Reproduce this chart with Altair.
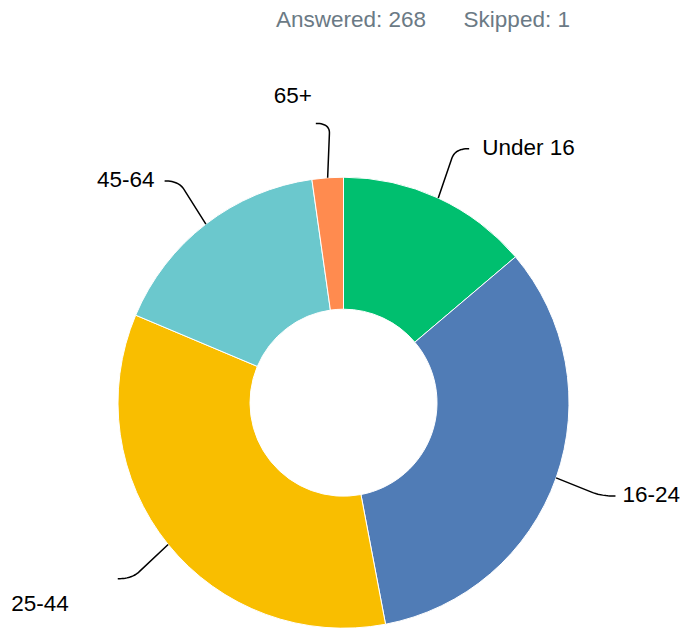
import math
import altair as alt
import pandas as pd

# ---- data ----
categories = ["Under 16", "16-24", "25-44", "45-64", "65+"]
counts = [37, 89, 92, 44, 6]
colors = ["#00BF6F", "#507CB6", "#F9BE00", "#6BC8CD", "#FF8B4F"]
answered = 268
skipped = 1

# ---- layout constants ----
W, H = 660, 420
PAD = {"left": 5.5, "top": 184.7, "right": 6.5, "bottom": 15.3}
R_OUT, R_IN = 225.5, 93.5
R_END = 280
END_SHIFT = 8
ELBOW = 14
ROUND = 10
FONT = "Liberation Sans, Arial, sans-serif"
FS = 22.5
LABEL_NUDGE = {"65+": (4, -26), "25-44": (-41, 26), "16-24": (-6, 0), "45-64": (-2, 0)}

total = sum(counts)
slices = pd.DataFrame({"cat": categories, "count": counts, "idx": list(range(len(categories)))})

line_rows, label_rows = [], []
acc = 0
for cat, c in zip(categories, counts):
    a0 = acc / total * 2 * math.pi
    a1 = (acc + c) / total * 2 * math.pi
    acc += c
    m = (a0 + a1) / 2
    s, k = math.sin(m), -math.cos(m)
    side = 1 if s >= 0 else -1
    p0 = (R_OUT * s, R_OUT * k)
    e = (R_END * s + side * END_SHIFT, R_END * k)
    b = (e[0] - side * ELBOW, e[1])
    d = math.hypot(p0[0] - b[0], p0[1] - b[1])
    q = (b[0] + (p0[0] - b[0]) * ROUND / d, b[1] + (p0[1] - b[1]) * ROUND / d)
    pts = [p0]
    n = 14
    for i in range(n + 1):
        t = i / n
        x = (1 - t) ** 2 * q[0] + 2 * (1 - t) * t * b[0] + t * t * e[0]
        y = (1 - t) ** 2 * q[1] + 2 * (1 - t) * t * b[1] + t * t * e[1]
        pts.append((x, y))
    for j, (x, y) in enumerate(pts):
        line_rows.append({"cat": cat, "i": j, "x": x, "y": y})
    nx, ny = LABEL_NUDGE.get(cat, (0, 0))
    lx = e[0] + (13 if side > 0 else -8) + nx
    ly = e[1] + 6 + ny
    label_rows.append({"cat": cat, "x": lx, "y": ly, "side": "right" if side > 0 else "left"})

lines_df = pd.DataFrame(line_rows)
labels_df = pd.DataFrame(label_rows)

xs = alt.Scale(domain=[-W / 2, W / 2], nice=False, zero=False)
ys = alt.Scale(domain=[-H / 2, H / 2], nice=False, zero=False, reverse=True)

arcs = alt.Chart(slices).mark_arc(
    radius=R_OUT, innerRadius=R_IN, stroke="white", strokeWidth=1
).encode(
    theta=alt.Theta("count:Q", stack=True),
    color=alt.Color("cat:N", scale=alt.Scale(domain=categories, range=colors), legend=None),
    order=alt.Order("idx:Q", sort="ascending"),
)

lines = alt.Chart(lines_df).mark_line(color="black", strokeWidth=1.5).encode(
    x=alt.X("x:Q", scale=xs, axis=None),
    y=alt.Y("y:Q", scale=ys, axis=None),
    detail="cat:N",
    order="i:Q",
)

text_right = alt.Chart(labels_df).transform_filter(alt.datum.side == "right").mark_text(
    align="left", baseline="alphabetic", font=FONT, fontSize=FS, color="black"
).encode(x=alt.X("x:Q", scale=xs, axis=None), y=alt.Y("y:Q", scale=ys, axis=None), text="cat:N")

text_left = alt.Chart(labels_df).transform_filter(alt.datum.side == "left").mark_text(
    align="right", baseline="alphabetic", font=FONT, fontSize=FS, color="black"
).encode(x=alt.X("x:Q", scale=xs, axis=None), y=alt.Y("y:Q", scale=ys, axis=None), text="cat:N")

header = f"Answered: {answered}" + "\u00a0" * 6 + f"Skipped: {skipped}"

chart = alt.layer(arcs, lines, text_right, text_left).properties(
    width=W,
    height=H,
    autosize=alt.AutoSizeParams(type="none"),
    padding=PAD,
    title=alt.TitleParams(
        text=header, anchor="start", frame="group", dx=262.5, offset=36,
        baseline="alphabetic", fontSize=FS, font=FONT, color="#6b7a85", fontWeight="normal",
    ),
).configure_view(strokeWidth=0)

chart.save("out.html", embed_options={"renderer": "svg", "actions": False})
